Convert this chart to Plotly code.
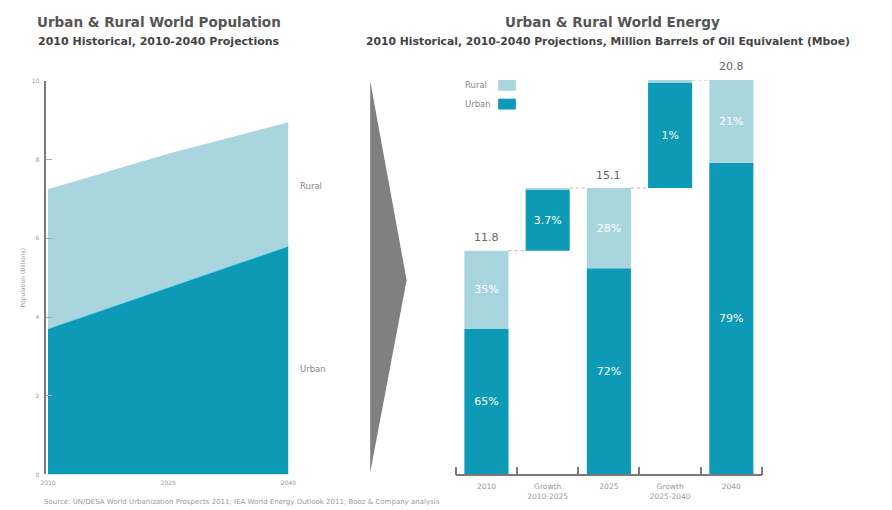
import plotly.graph_objects as go

# ---------------- data ----------------
pop_years = [2010, 2025, 2040]
pop_urban = [3.7, 4.75, 5.8]        # billions
pop_rural = [3.55, 3.4, 3.15]       # billions
pop_yticks = [0, 2, 4, 6, 8, 10]

energy_total = [11.8, 15.1, 20.8]   # Mboe, 2010 / 2025 / 2040
urban_share = [65, 72, 79]          # % urban
growth_labels = ["3.7%", "1%"]
cat_labels = ["2010", "Growth<br>2010-2025", "2025", "Growth<br>2025-2040", "2040"]

DARK = "#0c9ab6"
LIGHT = "#a9d6de"
GREY = "#7a7a7a"
FONT = "DejaVu Sans"

W, H = 892, 510
def px(x):
    return x / W
def py(y):
    return 1 - y / H

fig = go.Figure()

# ---------------- left: population area ----------------
fig.add_trace(go.Scatter(x=pop_years, y=pop_urban, stackgroup="pop", mode="lines",
                         line=dict(width=0.8, color="#5fd2e4"), fillcolor=DARK,
                         name="Urban", showlegend=False, xaxis="x", yaxis="y"))
fig.add_trace(go.Scatter(x=pop_years, y=pop_rural, stackgroup="pop", mode="lines",
                         line=dict(width=0), fillcolor=LIGHT,
                         name="Rural", showlegend=False, xaxis="x", yaxis="y"))

# ---------------- right: energy waterfall ----------------
urban_tot = [t * s / 100 for t, s in zip(energy_total, urban_share)]
rural_tot = [t - u for t, u in zip(energy_total, urban_tot)]

xs, u_vals, u_base, r_vals, r_base, u_text, r_text, tops = [], [], [], [], [], [], [], []
for i in range(len(energy_total)):
    xs.append(2 * i)
    u_vals.append(urban_tot[i]); u_base.append(0)
    r_vals.append(rural_tot[i]); r_base.append(urban_tot[i])
    u_text.append(f"{urban_share[i]}%"); r_text.append(f"{100 - urban_share[i]}%")
    tops.append(energy_total[i])
    if i < len(energy_total) - 1:
        xs.append(2 * i + 1)
        du = urban_tot[i + 1] - urban_tot[i]
        dr = rural_tot[i + 1] - rural_tot[i]
        u_vals.append(du); u_base.append(energy_total[i])
        r_vals.append(dr); r_base.append(energy_total[i] + du)
        u_text.append(growth_labels[i]); r_text.append("")
        tops.append(energy_total[i + 1])

BW = 0.72
fig.add_trace(go.Bar(x=xs, y=u_vals, base=u_base, width=BW, marker=dict(color=DARK, line=dict(width=0)),
                     text=u_text, textposition="inside", insidetextanchor="middle", textangle=0,
                     textfont=dict(color="white", size=11, family=FONT), name="Urban",
                     showlegend=False, xaxis="x2", yaxis="y2"))
fig.add_trace(go.Bar(x=xs, y=r_vals, base=r_base, width=BW, marker=dict(color=LIGHT, line=dict(width=0)),
                     text=r_text, textposition="inside", insidetextanchor="middle", textangle=0,
                     textfont=dict(color="white", size=11, family=FONT), name="Rural",
                     showlegend=False, xaxis="x2", yaxis="y2"))

# dotted connectors between consecutive bars
for k in range(len(xs) - 1):
    level = tops[k]
    fig.add_trace(go.Scatter(x=[xs[k] + BW / 2, xs[k + 1] - BW / 2], y=[level, level], mode="lines",
                             line=dict(color="#d4a3ab", width=1, dash="dot"),
                             showlegend=False, hoverinfo="skip", xaxis="x2", yaxis="y2"))

# total labels
for i, t in enumerate(energy_total):
    fig.add_annotation(x=2 * i, y=t, xref="x2", yref="y2", text=f"{t:.1f}", showarrow=False,
                       yshift=13, font=dict(size=11, color="#666", family=FONT))

# ---------------- layout ----------------
axis_font = dict(size=6, color="#999", family=FONT)
fig.update_layout(
    width=W, height=H, margin=dict(l=0, r=0, t=0, b=0),
    paper_bgcolor="white", plot_bgcolor="white",
    barmode="overlay", font=dict(family=FONT),
    xaxis=dict(domain=[px(41), px(287)], range=[2009.8, 2040], tickvals=pop_years,
               ticktext=[str(y) for y in pop_years], showline=False, showgrid=False,
               zeroline=False, ticks="", tickfont=axis_font, ticklabelstandoff=4, anchor="y"),
    yaxis=dict(domain=[py(477), py(78)], range=[0, 10], tickvals=pop_yticks,
               showline=True, linecolor=GREY, linewidth=1.5, ticks="inside", ticklen=6,
               tickcolor="#aaa", showgrid=False, zeroline=False, tickfont=axis_font,
               ticklabelstandoff=4,
               title=dict(text="Population (Billions)", font=dict(size=6, color="#999"), standoff=6),
               anchor="x", layer="above traces"),
    xaxis2=dict(domain=[px(457), px(768)], range=[-0.5, 4.5], tickvals=list(range(5)),
                ticktext=cat_labels, ticks="", showline=True, linecolor=GREY, linewidth=1.5,
                showgrid=False, zeroline=False, tickfont=dict(size=7.5, color="#999", family=FONT),
                ticklabelstandoff=4,
                minor=dict(tickmode="array", tickvals=[-0.5, 0.5, 1.5, 2.5, 3.5, 4.5],
                           ticks="inside", ticklen=8, tickcolor=GREY, tickwidth=1.5),
                anchor="y2"),
    yaxis2=dict(domain=[py(477), py(77)], range=[0, 20.8], visible=False, anchor="x2"),
)

def label(text, xc, yc, size, color, bold=False):
    fig.add_annotation(x=px(xc), y=py(yc), xref="paper", yref="paper", xanchor="center",
                       yanchor="middle", text=f"<b>{text}</b>" if bold else text, showarrow=False,
                       font=dict(size=size, color=color, family=FONT))

# titles
label("Urban & Rural World Population", 155, 18, 13.5, "#555", True)
label("2010 Historical, 2010-2040 Projections", 155, 38, 11, "#444", True)
label("Urban & Rural World Energy", 616, 18, 13.5, "#555", True)
label("2010 Historical, 2010-2040 Projections, Million Barrels of Oil Equivalent (Mboe)", 612, 38, 10.8, "#444", True)

# area labels
label("Rural", 310, 185, 8.5, "#888")
label("Urban", 312, 370, 8.5, "#888")

# legend (right chart)
for name, col, yy, xc in [("Rural", LIGHT, 82, 478), ("Urban", DARK, 101, 480)]:
    label(name, xc, yy, 8.5, "#888")
    fig.add_shape(type="rect", xref="paper", yref="paper", x0=px(500), x1=px(518),
                  y0=py(yy + 6), y1=py(yy - 5), fillcolor=col, line=dict(width=0))

# arrow
fig.add_shape(type="path", xref="paper", yref="paper",
              path=f"M {px(370)},{py(78)} L {px(407)},{py(280)} L {px(370)},{py(475)} Z",
              fillcolor="#808080", line=dict(width=0))

# source
label("Source: UN/DESA World Urbanization Prospects 2011; IEA World Energy Outlook 2011; Booz & Company analysis",
      240, 505, 7, "#999")

fig.write_html("out.html")
